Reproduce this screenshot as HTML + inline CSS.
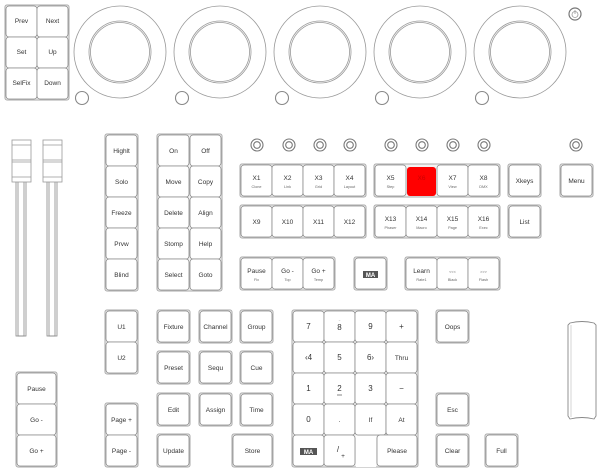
<!DOCTYPE html>
<html><head><meta charset="utf-8"><style>
html,body{margin:0;padding:0;background:#fff}
svg{display:block}
text{font-family:"Liberation Sans",sans-serif;fill:#333;text-anchor:middle}
.g{fill:#f3f3f3;stroke:#aaa;stroke-width:1}
.b{fill:#fff;stroke:#8a8a8a;stroke-width:0.8}
.c{fill:none;stroke:#999;stroke-width:0.8}
.t{font-size:6.5px}
.s{font-size:3.8px;fill:#666}
</style></head><body>
<svg width="600" height="474" viewBox="0 0 600 474">
<!-- top left -->
<rect class="g" x="5" y="5" width="64" height="95" rx="2"/>
<g>
<rect class="b" x="6" y="6" width="31" height="31" rx="3"/><text class="t" x="21.5" y="23">Prev</text>
<rect class="b" x="37" y="6" width="31" height="31" rx="3"/><text class="t" x="52.5" y="23">Next</text>
<rect class="b" x="6" y="37" width="31" height="31" rx="3"/><text class="t" x="21.5" y="54">Set</text>
<rect class="b" x="37" y="37" width="31" height="31" rx="3"/><text class="t" x="52.5" y="54">Up</text>
<rect class="b" x="6" y="68" width="31" height="31" rx="3"/><text class="t" x="21.5" y="85">SelFix</text>
<rect class="b" x="37" y="68" width="31" height="31" rx="3"/><text class="t" x="52.5" y="85">Down</text>
</g>
<!-- encoders -->
<g class="c">
<circle cx="120" cy="52" r="46"/><circle cx="120" cy="52" r="31"/><circle cx="120" cy="52" r="29.5"/><circle cx="82" cy="98" r="6.5" style="stroke:#888;stroke-width:1.1"/>
<circle cx="220" cy="52" r="46"/><circle cx="220" cy="52" r="31"/><circle cx="220" cy="52" r="29.5"/><circle cx="182" cy="98" r="6.5" style="stroke:#888;stroke-width:1.1"/>
<circle cx="320" cy="52" r="46"/><circle cx="320" cy="52" r="31"/><circle cx="320" cy="52" r="29.5"/><circle cx="282" cy="98" r="6.5" style="stroke:#888;stroke-width:1.1"/>
<circle cx="420" cy="52" r="46"/><circle cx="420" cy="52" r="31"/><circle cx="420" cy="52" r="29.5"/><circle cx="382" cy="98" r="6.5" style="stroke:#888;stroke-width:1.1"/>
<circle cx="520" cy="52" r="46"/><circle cx="520" cy="52" r="31"/><circle cx="520" cy="52" r="29.5"/><circle cx="482" cy="98" r="6.5" style="stroke:#888;stroke-width:1.1"/>
<circle cx="575" cy="14" r="6" style="stroke:#777;stroke-width:1.2"/><circle cx="575" cy="14.5" r="3"/><line x1="575" y1="10" x2="575" y2="14"/>
</g>
<!-- faders -->
<g class="c" style="stroke:#888">
<rect x="16" y="180" width="10" height="156"/><rect x="18" y="180" width="6" height="156"/>
<rect x="47" y="180" width="10" height="156"/><rect x="49" y="180" width="6" height="156"/>
</g>
<g style="fill:#fff;stroke:#999;stroke-width:0.8">
<rect x="12" y="140" width="19" height="42"/><line x1="12" y1="145" x2="31" y2="145"/><line x1="12" y1="160" x2="31" y2="160"/><line x1="12" y1="162" x2="31" y2="162"/><line x1="12" y1="177" x2="31" y2="177"/>
<rect x="43" y="140" width="19" height="42"/><line x1="43" y1="145" x2="62" y2="145"/><line x1="43" y1="160" x2="62" y2="160"/><line x1="43" y1="162" x2="62" y2="162"/><line x1="43" y1="177" x2="62" y2="177"/>
</g>
<!-- Highlt column -->
<rect class="g" x="105" y="134" width="33" height="157" rx="2"/>
<rect class="b" x="106" y="135" width="31" height="31" rx="3"/><text class="t" x="121.5" y="153">Highlt</text>
<rect class="b" x="106" y="166" width="31" height="31" rx="3"/><text class="t" x="121.5" y="184">Solo</text>
<rect class="b" x="106" y="197" width="31" height="31" rx="3"/><text class="t" x="121.5" y="215">Freeze</text>
<rect class="b" x="106" y="228" width="31" height="31" rx="3"/><text class="t" x="121.5" y="246">Prvw</text>
<rect class="b" x="106" y="259" width="31" height="31" rx="3"/><text class="t" x="121.5" y="277">Blind</text>
<!-- On/Off -->
<rect class="g" x="157" y="134" width="65" height="157" rx="2"/>
<rect class="b" x="158" y="135" width="31" height="31" rx="3"/><text class="t" x="173.5" y="153">On</text>
<rect class="b" x="190" y="135" width="31" height="31" rx="3"/><text class="t" x="205.5" y="153">Off</text>
<rect class="b" x="158" y="166" width="31" height="31" rx="3"/><text class="t" x="173.5" y="184">Move</text>
<rect class="b" x="190" y="166" width="31" height="31" rx="3"/><text class="t" x="205.5" y="184">Copy</text>
<rect class="b" x="158" y="197" width="31" height="31" rx="3"/><text class="t" x="173.5" y="215">Delete</text>
<rect class="b" x="190" y="197" width="31" height="31" rx="3"/><text class="t" x="205.5" y="215">Align</text>
<rect class="b" x="158" y="228" width="31" height="31" rx="3"/><text class="t" x="173.5" y="246">Stomp</text>
<rect class="b" x="190" y="228" width="31" height="31" rx="3"/><text class="t" x="205.5" y="246">Help</text>
<rect class="b" x="158" y="259" width="31" height="31" rx="3"/><text class="t" x="173.5" y="277">Select</text>
<rect class="b" x="190" y="259" width="31" height="31" rx="3"/><text class="t" x="205.5" y="277">Goto</text>
<!-- small encoders -->
<g style="fill:#fff;stroke:#777;stroke-width:1.1">
<circle cx="257" cy="145" r="6"/><circle cx="257" cy="145" r="3.3"/>
<circle cx="289" cy="145" r="6"/><circle cx="289" cy="145" r="3.3"/>
<circle cx="320" cy="145" r="6"/><circle cx="320" cy="145" r="3.3"/>
<circle cx="350" cy="145" r="6"/><circle cx="350" cy="145" r="3.3"/>
<circle cx="391" cy="145" r="6"/><circle cx="391" cy="145" r="3.3"/>
<circle cx="422" cy="145" r="6"/><circle cx="422" cy="145" r="3.3"/>
<circle cx="453" cy="145" r="6"/><circle cx="453" cy="145" r="3.3"/>
<circle cx="484" cy="145" r="6"/><circle cx="484" cy="145" r="3.3"/>
<circle cx="576" cy="145" r="6"/><circle cx="576" cy="145" r="3.3"/>
</g>
<!-- X row 1 -->
<rect class="g" x="240" y="164" width="126" height="33" rx="2"/>
<rect class="b" x="241" y="165" width="31" height="31" rx="3"/><text class="t" x="256.5" y="180">X1</text><text class="s" x="256.5" y="188">Clone</text>
<rect class="b" x="272" y="165" width="31" height="31" rx="3"/><text class="t" x="287.5" y="180">X2</text><text class="s" x="287.5" y="188">Link</text>
<rect class="b" x="303" y="165" width="31" height="31" rx="3"/><text class="t" x="318.5" y="180">X3</text><text class="s" x="318.5" y="188">Grid</text>
<rect class="b" x="334" y="165" width="31" height="31" rx="3"/><text class="t" x="349.5" y="180">X4</text><text class="s" x="349.5" y="188">Layout</text>
<rect class="g" x="374" y="164" width="126" height="33" rx="2"/>
<rect class="b" x="375" y="165" width="31" height="31" rx="3"/><text class="t" x="390.5" y="180">X5</text><text class="s" x="390.5" y="188">Step</text>
<rect x="407" y="167" width="29" height="29" rx="3" fill="#f00"/><text class="t" x="421.5" y="180" style="fill:#c00">X6</text>
<rect class="b" x="437" y="165" width="31" height="31" rx="3"/><text class="t" x="452.5" y="180">X7</text><text class="s" x="452.5" y="188">View</text>
<rect class="b" x="468" y="165" width="31" height="31" rx="3"/><text class="t" x="483.5" y="180">X8</text><text class="s" x="483.5" y="188">DMX</text>
<rect class="g" x="508" y="164" width="33" height="33" rx="2"/><rect class="b" x="509" y="165" width="31" height="31" rx="3"/><text class="t" x="524.5" y="183">Xkeys</text>
<rect class="g" x="560" y="164" width="33" height="33" rx="2"/><rect class="b" x="561" y="165" width="31" height="31" rx="3"/><text class="t" x="576.5" y="183">Menu</text>
<!-- X row 2 -->
<rect class="g" x="240" y="205" width="126" height="33" rx="2"/>
<rect class="b" x="241" y="206" width="31" height="31" rx="3"/><text class="t" x="256.5" y="224">X9</text>
<rect class="b" x="272" y="206" width="31" height="31" rx="3"/><text class="t" x="287.5" y="224">X10</text>
<rect class="b" x="303" y="206" width="31" height="31" rx="3"/><text class="t" x="318.5" y="224">X11</text>
<rect class="b" x="334" y="206" width="31" height="31" rx="3"/><text class="t" x="349.5" y="224">X12</text>
<rect class="g" x="374" y="205" width="126" height="33" rx="2"/>
<rect class="b" x="375" y="206" width="31" height="31" rx="3"/><text class="t" x="390.5" y="221">X13</text><text class="s" x="390.5" y="229">Phaser</text>
<rect class="b" x="406" y="206" width="31" height="31" rx="3"/><text class="t" x="421.5" y="221">X14</text><text class="s" x="421.5" y="229">Macro</text>
<rect class="b" x="437" y="206" width="31" height="31" rx="3"/><text class="t" x="452.5" y="221">X15</text><text class="s" x="452.5" y="229">Page</text>
<rect class="b" x="468" y="206" width="31" height="31" rx="3"/><text class="t" x="483.5" y="221">X16</text><text class="s" x="483.5" y="229">Exec</text>
<rect class="g" x="508" y="205" width="33" height="33" rx="2"/><rect class="b" x="509" y="206" width="31" height="31" rx="3"/><text class="t" x="524.5" y="224">List</text>
<!-- Pause row -->
<rect class="g" x="240" y="257" width="95" height="33" rx="2"/>
<rect class="b" x="241" y="258" width="31" height="31" rx="3"/><text class="t" x="256.5" y="273">Pause</text><text class="s" x="256.5" y="281">Fix</text>
<rect class="b" x="272" y="258" width="31" height="31" rx="3"/><text class="t" x="287.5" y="273">Go -</text><text class="s" x="287.5" y="281">Top</text>
<rect class="b" x="303" y="258" width="31" height="31" rx="3"/><text class="t" x="318.5" y="273">Go +</text><text class="s" x="318.5" y="281">Temp</text>
<rect class="g" x="354" y="257" width="33" height="33" rx="2"/><rect class="b" x="355" y="258" width="31" height="31" rx="3"/>
<rect x="363" y="271" width="15" height="7" fill="#555"/><text x="370.5" y="277" style="font-size:6px;font-weight:bold;fill:#fff">MA</text>
<rect class="g" x="405" y="257" width="95" height="33" rx="2"/>
<rect class="b" x="406" y="258" width="31" height="31" rx="3"/><text class="t" x="421.5" y="273">Learn</text><text class="s" x="421.5" y="281">Rate1</text>
<rect class="b" x="437" y="258" width="31" height="31" rx="3"/><text class="s" x="452.5" y="273">&lt;&lt;&lt;</text><text class="s" x="452.5" y="281">Black</text>
<rect class="b" x="468" y="258" width="31" height="31" rx="3"/><text class="s" x="483.5" y="273">&gt;&gt;&gt;</text><text class="s" x="483.5" y="281">Flash</text>
<!-- U1/U2 -->
<rect class="g" x="105" y="310" width="33" height="64" rx="2"/>
<rect class="b" x="106" y="311" width="31" height="31" rx="3"/><text class="t" x="121.5" y="329">U1</text>
<rect class="b" x="106" y="342" width="31" height="31" rx="3"/><text class="t" x="121.5" y="360">U2</text>
<!-- function grid -->
<rect class="g" x="157" y="310" width="33" height="33" rx="2"/><rect class="b" x="158" y="311" width="31" height="31" rx="3"/><text class="t" x="173.5" y="329">Fixture</text>
<rect class="g" x="199" y="310" width="33" height="33" rx="2"/><rect class="b" x="200" y="311" width="31" height="31" rx="3"/><text class="t" x="215.5" y="329">Channel</text>
<rect class="g" x="240" y="310" width="33" height="33" rx="2"/><rect class="b" x="241" y="311" width="31" height="31" rx="3"/><text class="t" x="256.5" y="329">Group</text>
<rect class="g" x="157" y="351" width="33" height="33" rx="2"/><rect class="b" x="158" y="352" width="31" height="31" rx="3"/><text class="t" x="173.5" y="370">Preset</text>
<rect class="g" x="199" y="351" width="33" height="33" rx="2"/><rect class="b" x="200" y="352" width="31" height="31" rx="3"/><text class="t" x="215.5" y="370">Sequ</text>
<rect class="g" x="240" y="351" width="33" height="33" rx="2"/><rect class="b" x="241" y="352" width="31" height="31" rx="3"/><text class="t" x="256.5" y="370">Cue</text>
<rect class="g" x="157" y="393" width="33" height="33" rx="2"/><rect class="b" x="158" y="394" width="31" height="31" rx="3"/><text class="t" x="173.5" y="412">Edit</text>
<rect class="g" x="199" y="393" width="33" height="33" rx="2"/><rect class="b" x="200" y="394" width="31" height="31" rx="3"/><text class="t" x="215.5" y="412">Assign</text>
<rect class="g" x="240" y="393" width="33" height="33" rx="2"/><rect class="b" x="241" y="394" width="31" height="31" rx="3"/><text class="t" x="256.5" y="412">Time</text>
<rect class="g" x="157" y="434" width="33" height="33" rx="2"/><rect class="b" x="158" y="435" width="31" height="31" rx="3"/><text class="t" x="173.5" y="453">Update</text>
<rect class="g" x="232" y="434" width="41" height="33" rx="2"/><rect class="b" x="233" y="435" width="39" height="31" rx="3"/><text class="t" x="252.5" y="453">Store</text>
<!-- left playback -->
<rect class="g" x="16" y="372" width="41" height="95" rx="2"/>
<rect class="b" x="17" y="373" width="39" height="31" rx="3"/><text class="t" x="36.5" y="391">Pause</text>
<rect class="b" x="17" y="404" width="39" height="31" rx="3"/><text class="t" x="36.5" y="422">Go -</text>
<rect class="b" x="17" y="435" width="39" height="31" rx="3"/><text class="t" x="36.5" y="453">Go +</text>
<!-- page -->
<rect class="g" x="105" y="403" width="33" height="64" rx="2"/>
<rect class="b" x="106" y="404" width="31" height="31" rx="3"/><text class="t" x="121.5" y="422">Page +</text>
<rect class="b" x="106" y="435" width="31" height="31" rx="3"/><text class="t" x="121.5" y="453">Page -</text>
<!-- numpad -->
<rect class="g" x="292" y="310" width="126" height="157" rx="2"/>
<rect class="b" x="293" y="311" width="31" height="31" rx="3"/><text class="t" x="308.5" y="329" style="font-size:8px">7</text>
<rect class="b" x="324" y="311" width="31" height="31" rx="3"/><text class="t" x="339.5" y="330" style="font-size:8px">8</text><text class="s" x="339.5" y="323">‾</text>
<rect class="b" x="355" y="311" width="31" height="31" rx="3"/><text class="t" x="370.5" y="329" style="font-size:8px">9</text>
<rect class="b" x="386" y="311" width="31" height="31" rx="3"/><text class="t" x="401.5" y="329" style="font-size:8px">+</text>
<rect class="b" x="293" y="342" width="31" height="31" rx="3"/><text class="t" x="308.5" y="360" style="font-size:8px">‹4</text>
<rect class="b" x="324" y="342" width="31" height="31" rx="3"/><text class="t" x="339.5" y="360" style="font-size:8px">5</text>
<rect class="b" x="355" y="342" width="31" height="31" rx="3"/><text class="t" x="370.5" y="360" style="font-size:8px">6›</text>
<rect class="b" x="386" y="342" width="31" height="31" rx="3"/><text class="t" x="401.5" y="360">Thru</text>
<rect class="b" x="293" y="373" width="31" height="31" rx="3"/><text class="t" x="308.5" y="391" style="font-size:8px">1</text>
<rect class="b" x="324" y="373" width="31" height="31" rx="3"/><text class="t" x="339.5" y="391" style="font-size:8px">2</text><line x1="337" y1="395" x2="342" y2="395" stroke="#333" stroke-width="0.6"/>
<rect class="b" x="355" y="373" width="31" height="31" rx="3"/><text class="t" x="370.5" y="391" style="font-size:8px">3</text>
<rect class="b" x="386" y="373" width="31" height="31" rx="3"/><text class="t" x="401.5" y="391" style="font-size:8px">−</text>
<rect class="b" x="293" y="404" width="31" height="31" rx="3"/><text class="t" x="308.5" y="422" style="font-size:8px">0</text>
<rect class="b" x="324" y="404" width="31" height="31" rx="3"/><text class="t" x="339.5" y="422">.</text>
<rect class="b" x="355" y="404" width="31" height="31" rx="3"/><text class="t" x="370.5" y="422">If</text>
<rect class="b" x="386" y="404" width="31" height="31" rx="3"/><text class="t" x="401.5" y="422">At</text>
<rect class="b" x="293" y="435" width="31" height="31" rx="3"/><rect x="300" y="448" width="17" height="7" fill="#555"/><text x="308.5" y="454" style="font-size:6px;font-weight:bold;fill:#fff">MA</text>
<rect class="b" x="324" y="435" width="31" height="31" rx="3"/><text class="t" x="338" y="452" style="font-size:8px">/</text><text class="t" x="343" y="458">+</text>
<rect fill="#fff" x="356" y="436" width="20" height="31"/>
<rect class="b" x="377" y="435" width="40" height="31" rx="3"/><text class="t" x="397" y="453">Please</text>
<!-- right keys -->
<rect class="g" x="436" y="310" width="33" height="33" rx="2"/><rect class="b" x="437" y="311" width="31" height="31" rx="3"/><text class="t" x="452.5" y="329">Oops</text>
<rect class="g" x="436" y="393" width="33" height="33" rx="2"/><rect class="b" x="437" y="394" width="31" height="31" rx="3"/><text class="t" x="452.5" y="412">Esc</text>
<rect class="g" x="436" y="434" width="33" height="33" rx="2"/><rect class="b" x="437" y="435" width="31" height="31" rx="3"/><text class="t" x="452.5" y="453">Clear</text>
<rect class="g" x="485" y="434" width="33" height="33" rx="2"/><rect class="b" x="486" y="435" width="31" height="31" rx="3"/><text class="t" x="501.5" y="453">Full</text>
<!-- wheel -->
<path d="M570 323 Q582 320 594 323 L596 325 L596 416 L594 419 Q582 416 570 419 L568 416 L568 325 Z" fill="#fff" stroke="#888" stroke-width="0.9"/>
<path d="M571 325 L571 417" stroke="#bbb" stroke-width="0.6"/>
</svg>
</body></html>
